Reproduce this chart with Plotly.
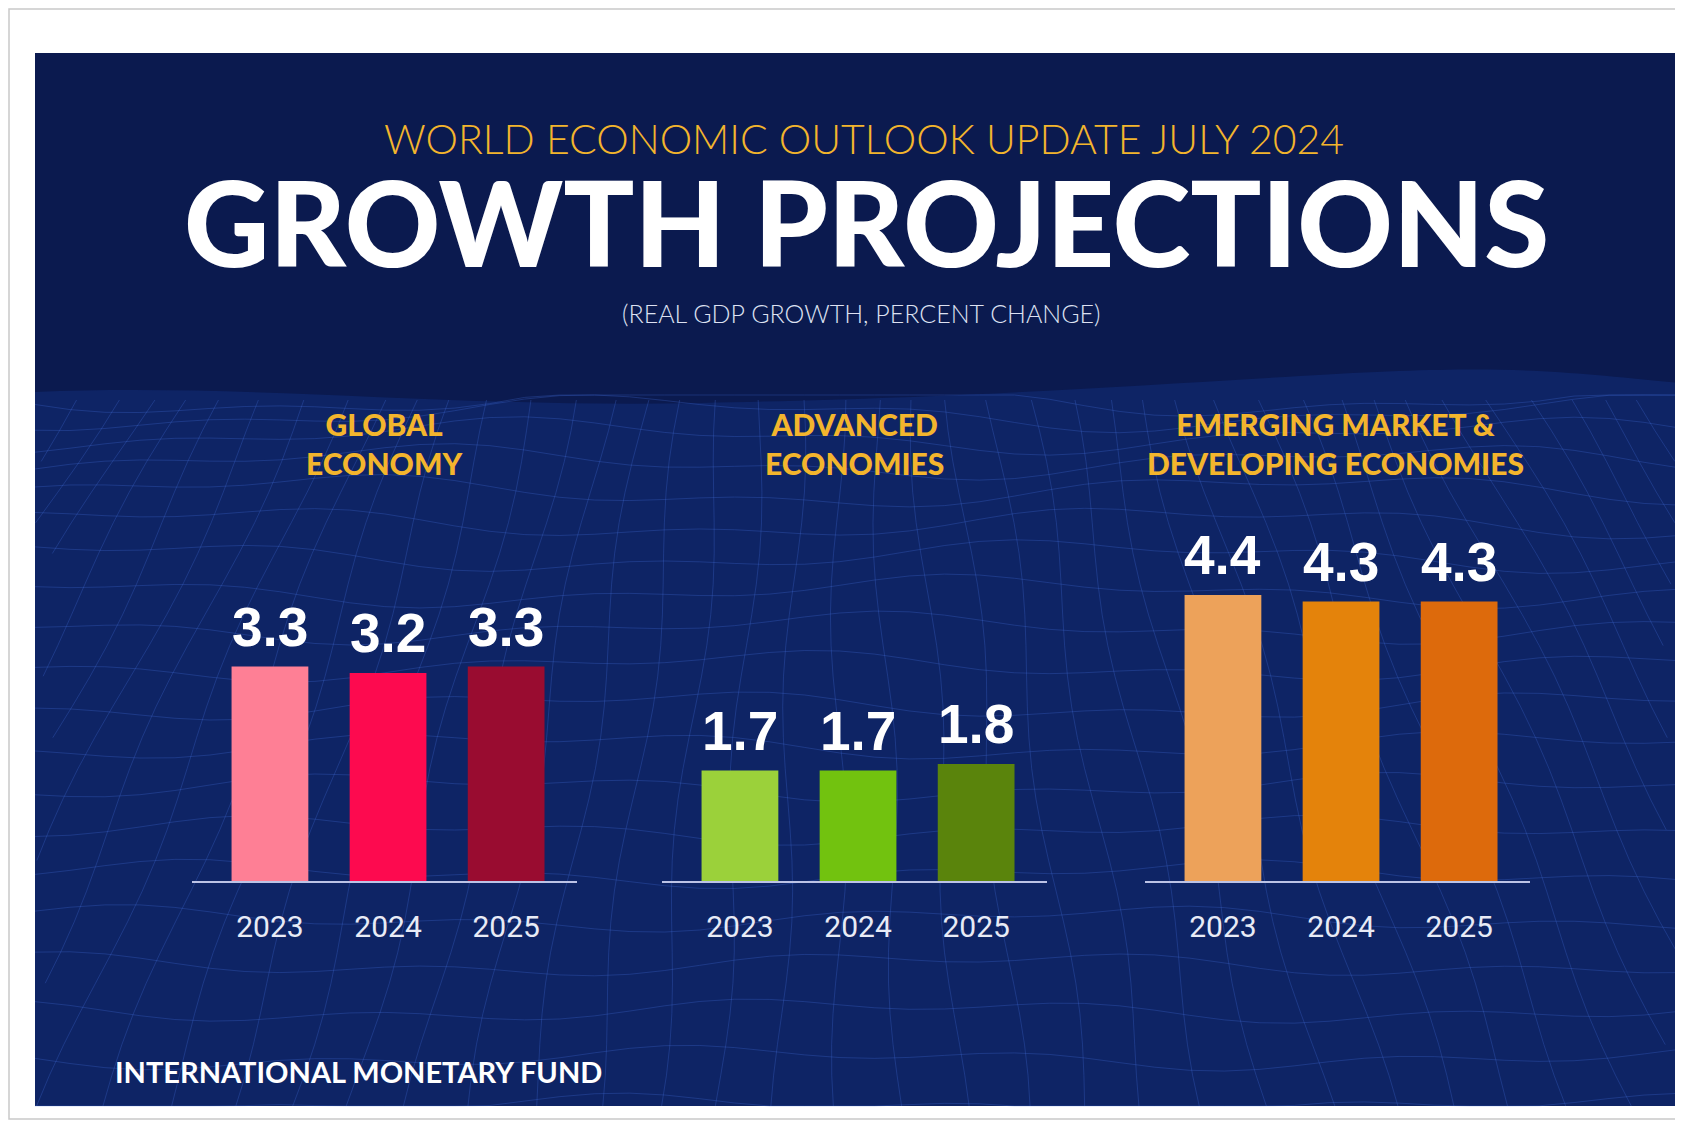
import plotly.graph_objects as go
import numpy as np

# ---------------- data ----------------
years = ["2023", "2024", "2025"]
global_vals = [3.3, 3.2, 3.3]
advanced_vals = [1.7, 1.7, 1.8]
emerging_vals = [4.4, 4.3, 4.3]

global_colors = ["#fe7f95", "#fd0a4f", "#990c30"]
advanced_colors = ["#9bd13a", "#72c20f", "#5a840c"]
emerging_colors = ["#eda25a", "#e4830b", "#dd6a0c"]

panel_titles = ["GLOBAL<br>ECONOMY", "ADVANCED<br>ECONOMIES",
                "EMERGING MARKET &<br>DEVELOPING ECONOMIES"]

kicker = "WORLD ECONOMIC OUTLOOK UPDATE JULY 2024"
headline = "GROWTH PROJECTIONS"
subhead = "(REAL GDP GROWTH, PERCENT CHANGE)"
footer = "INTERNATIONAL MONETARY FUND"

# ---------------- layout helpers ----------------
OFF = 8                      # page body margin
W, H = 1683 - OFF, 1123 - OFF
NAVY = "#0b1a4f"
GOLD = "#f3b52d"


def fx(p):
    return (p - OFF) / W


def fy(p):
    return 1 - (p - OFF) / H


BASE = 881          # baseline pixel (page, from top)
TOP = 480
PX_PER_UNIT = 65.0
YMAX = (BASE - TOP) / PX_PER_UNIT
XRANGE = [-0.66, 2.60]
panel_left = [192, 662, 1145]
panel_width = 385
title_cx = [384, 854, 1335]

fig = go.Figure()

series = [(global_vals, global_colors), (advanced_vals, advanced_colors),
          (emerging_vals, emerging_colors)]

annotations = []
for i, (vals, cols) in enumerate(series):
    n = "" if i == 0 else str(i + 1)
    fig.add_trace(go.Bar(
        x=years, y=vals, marker=dict(color=cols, line=dict(width=0)),
        width=0.65, cliponaxis=False,
        xaxis="x" + n, yaxis="y" + n, showlegend=False, hoverinfo="skip",
    ))
    # value labels placed through the axes (category index, value)
    for j, v in enumerate(vals):
        annotations.append(dict(
            text=f"{v:.1f}", x=j, y=v, xref="x" + n, yref="y" + n,
            showarrow=False, xanchor="center", yanchor="bottom", yshift=7,
            font=dict(family="Liberation Sans", size=55, color="white", weight="bold")))
    fig.update_layout(**{
        "xaxis" + n: dict(
            domain=[fx(panel_left[i]), fx(panel_left[i] + panel_width)],
            range=XRANGE, type="category", anchor="y" + n,
            categoryorder="array", categoryarray=years,
            showline=True, linecolor="#bcc3e6", linewidth=2,
            showgrid=False, zeroline=False, ticks="",
            ticklabelstandoff=18,
            tickfont=dict(family="Roboto", size=30, color="#e8ebf6"),
            fixedrange=True,
        ),
        "yaxis" + n: dict(
            domain=[fy(BASE), fy(TOP)], range=[0, YMAX], anchor="x" + n,
            visible=False, fixedrange=True,
        ),
    })

shapes = []
# outer frame
shapes.append(dict(type="rect", xref="paper", yref="paper",
                   x0=fx(9), x1=fx(1690), y0=fy(1119), y1=fy(9),
                   line=dict(color="#c9c9c9", width=1.5), fillcolor="white", layer="below"))
# navy panel
shapes.append(dict(type="rect", xref="paper", yref="paper",
                   x0=fx(35), x1=fx(1679), y0=fy(1106), y1=fy(53),
                   line=dict(width=0), fillcolor=NAVY, layer="below"))
# lighter terrain region (decorative background)
horizon = "M {},{} C {},{} {},{} {},{} S {},{} {},{} S {},{} {},{} L {},{} L {},{} Z".format(
    fx(35), fy(392), fx(250), fy(383), fx(450), fy(408), fx(700), fy(403),
    fx(1100), fy(388), fx(1300), fy(376), fx(1550), fy(370), fx(1679), fy(383),
    fx(1679), fy(1106), fx(35), fy(1106))
shapes.append(dict(type="path", xref="paper", yref="paper", path=horizon,
                   fillcolor="#0e2465", line=dict(width=0), layer="below"))

# decorative wireframe mesh lines
mesh_color = "rgba(70,115,225,0.27)"
rows = 20
for r in range(rows):
    t = r / (rows - 1)
    ybase = 398 + (1106 - 398) * (t ** 1.3)
    xs = np.linspace(35, 1679, 48)
    amp = 14 * (1 - 0.5 * t)
    ys = ybase + amp * np.sin(xs / 160 + r * 0.7) + 6 * np.sin(xs / 57 + r)
    ys = np.clip(ys, 395, 1106)
    d = "M " + " L ".join(f"{fx(a):.5f},{fy(b):.5f}" for a, b in zip(xs, ys))
    shapes.append(dict(type="path", xref="paper", yref="paper", path=d,
                       line=dict(color=mesh_color, width=1), layer="below"))
cols_n = 44
for c in range(cols_n):
    xt = 35 + (1679 - 35) * c / (cols_n - 1)
    xb = 835 + (xt - 835) * 1.6
    yy = np.linspace(400, 1106, 24)
    xx = xt + (xb - xt) * (yy - 400) / (1106 - 400) + 8 * np.sin(yy / 70 + c)
    pts = [(a, b) for a, b in zip(xx, yy) if 35 <= a <= 1679]
    if len(pts) < 2:
        continue
    d = "M " + " L ".join(f"{fx(a):.5f},{fy(b):.5f}" for a, b in pts)
    shapes.append(dict(type="path", xref="paper", yref="paper", path=d,
                       line=dict(color=mesh_color, width=1), layer="below"))

annotations += [
    dict(text=kicker, x=fx(864), y=fy(138), xref="paper", yref="paper",
         showarrow=False, xanchor="center", yanchor="middle",
         font=dict(family="Lato", size=41, color=GOLD, weight=300)),
    dict(text=headline, x=fx(866), y=fy(221), xref="paper", yref="paper",
         showarrow=False, xanchor="center", yanchor="middle",
         font=dict(family="Lato Black, Lato", size=118, color="white", weight=900)),
    dict(text=subhead, x=fx(861), y=fy(313), xref="paper", yref="paper",
         showarrow=False, xanchor="center", yanchor="middle",
         font=dict(family="Lato", size=25, color="#dde1f2", weight=300)),
    dict(text=footer, x=fx(113), y=fy(1071), xref="paper", yref="paper",
         showarrow=False, xanchor="left", yanchor="middle",
         font=dict(family="Lato", size=29, color="white", weight=700)),
]
for i, t in enumerate(panel_titles):
    annotations.append(dict(
        text=t, x=fx(title_cx[i]), y=fy(443), xref="paper", yref="paper",
        showarrow=False, xanchor="center", yanchor="middle",
        font=dict(family="Lato Black, Lato", size=30, color=GOLD, weight=900)))

fig.update_layout(
    width=W, height=H, margin=dict(l=0, r=0, t=0, b=0),
    paper_bgcolor="white", plot_bgcolor="rgba(0,0,0,0)",
    shapes=shapes, annotations=annotations, bargap=0.35,
)

fig.write_html("out.html")
